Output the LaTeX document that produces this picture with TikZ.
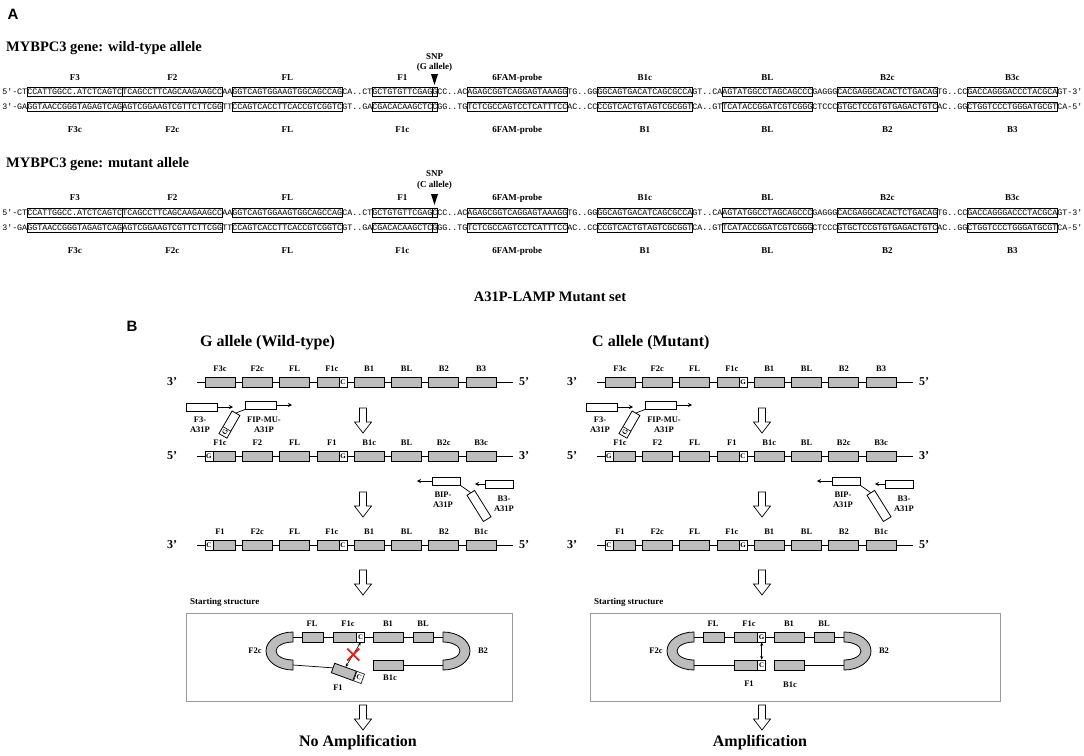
\documentclass[tikz,border=0pt]{standalone}
\usepackage{fontspec}
\setmainfont{Liberation Serif}
\newfontfamily\seqfont{Liberation Mono}
\newfontfamily\pfont{Liberation Sans}
\usetikzlibrary{arrows.meta,calc}
\definecolor{boxgray}{HTML}{BDBDBD}
\definecolor{framegray}{HTML}{9A9A9A}
\definecolor{xred}{HTML}{E0201B}

\newcommand{\seqrow}[3]{\foreach \ii/\tx/\dc/\nm in {#3}{\node[seqn,draw=\dc] (#1\nm) at ({2+5*\ii},#2) {\tx};}}
\newcommand{\strandB}[6]{%
  \draw[strandline] ({#2+197},#3) coordinate (#1s) -- ({#2+513},#3) coordinate (#1e);
  \node[endlab] (#1L) at ({#2+172},#3) {#4};
  \node[endlab] (#1R) at ({#2+524},#3) {#5};
  \foreach \lab [count=\k from 0] in {#6}{%
    \node[gbox] (#1b\k) at ({#2+220+37.3*\k},#3) {};
    \node[blab] (#1t\k) at ({#2+220+37.3*\k},{#3-13}) {\lab};
  }%
}
\newcommand{\hdown}[2]{\draw[harrow] ({#1-3.5},#2) -- ({#1+3.5},#2) -- ({#1+3.5},{#2+14}) -- ({#1+8.5},{#2+14}) -- (#1,{#2+25}) -- ({#1-8.5},{#2+14}) -- ({#1-3.5},{#2+14}) -- cycle;}
\newcommand{\primers}[2]{%
  \node[pbox,minimum width=31pt] (#1F3p) at ({#2+201.5},407) {};
  \coordinate (#1F3a) at ({#2+233},407);
  \draw[parrow] (#1F3p.east) -- (#1F3a);
  \node[plab] (#1F3l) at ({#2+200},425) {F3-\\A31P};
  \node[pbox,minimum width=31pt] (#1FIPp) at ({#2+261},405) {};
  \coordinate (#1FIPa) at ({#2+292},405);
  \draw[parrow] (#1FIPp.east) -- (#1FIPa);
  \node[pbox,minimum width=26pt,minimum height=9pt,rotate=60] (#1FIPt) at ({#2+229.5},424.5) {};
  \node[lsq,minimum height=9pt,rotate=60,anchor=west] (#1FIPg) at (#1FIPt.west) {G};
  \draw[thinline] (#1FIPp.south west) -- (#1FIPt.east);
  \node[plab] (#1FIPl) at ({#2+264},425) {FIP-MU-\\A31P};
  \node[pbox,minimum width=28pt] (#1BIPp) at ({#2+446},481) {};
  \coordinate (#1BIPa) at ({#2+417},481);
  \draw[parrow] (#1BIPp.west) -- (#1BIPa);
  \node[pbox,minimum width=31pt,minimum height=9pt,rotate=-58] (#1BIPt) at ({#2+479},506) {};
  \draw[thinline] (#1BIPp.south east) -- (#1BIPt.west);
  \node[plab] (#1BIPl) at ({#2+443},499.5) {BIP-\\A31P};
  \node[pbox,minimum width=28pt] (#1B3p) at ({#2+499},484) {};
  \coordinate (#1B3a) at ({#2+475},484);
  \draw[parrow] (#1B3p.west) -- (#1B3a);
  \node[plab] (#1B3l) at ({#2+504},504) {B3-\\A31P};
}

\begin{document}
\begin{tikzpicture}[x=1pt,y=-1pt,
  seqn/.style={anchor=west, inner xsep=0pt, inner ysep=1.8pt, text height=5.6pt, text depth=0pt, font=\seqfont\fontsize{8.333}{9}\selectfont, line width=0.5pt},
  alab/.style={font=\bfseries\fontsize{9}{10}\selectfont, inner sep=0pt},
  title/.style={font=\bfseries\fontsize{14.5}{16}\selectfont, inner sep=0pt},
  panel/.style={font=\pfont\bfseries\fontsize{15}{16}\selectfont, inner sep=0pt},
  gbox/.style={draw, line width=0.8pt, fill=boxgray, minimum width=30pt, minimum height=10pt, inner sep=0pt},
  lsq/.style={draw, line width=0.6pt, fill=white, minimum width=8pt, minimum height=10pt, inner sep=0pt, font=\bfseries\fontsize{7}{7}\selectfont},
  pbox/.style={draw, line width=0.8pt, fill=white, minimum height=8pt, inner sep=0pt},
  parrow/.style={-{Stealth[length=4pt,width=4pt]}, line width=0.6pt},
  strandline/.style={line width=0.8pt},
  thinline/.style={line width=0.7pt},
  endlab/.style={font=\bfseries\fontsize{12}{12}\selectfont, inner sep=0pt},
  blab/.style={font=\bfseries\fontsize{8.5}{9}\selectfont, inner sep=0pt},
  plab/.style={font=\bfseries\fontsize{8.5}{10}\selectfont, inner sep=0pt, align=center},
  harrow/.style={draw, line width=0.7pt, fill=white},
  ssframe/.style={draw=framegray, line width=0.8pt, inner sep=0pt},
  sslab/.style={font=\bfseries\fontsize{9}{10}\selectfont, inner sep=0pt},
  arcband/.style={draw, line width=0.8pt, fill=boxgray},
  dblarrow/.style={{Stealth[length=3.5pt,width=3pt]}-{Stealth[length=3.5pt,width=3pt]}, line width=0.6pt},
  redx/.style={draw=xred, line width=1.8pt},
  big/.style={font=\bfseries\fontsize{16}{18}\selectfont, inner sep=0pt}
]
\fill[white] (0,0) rectangle (1084,755);
\useasboundingbox (0,0) rectangle (1084,755);

% ---------------- Panel A ----------------
\node[panel] (pA) at (13,14) {A};
\node[title,anchor=west] (wtitle) at (6,48) {MYBPC3 gene: wild-type allele};
\node[alab] (wsnp1) at (434.5,57) {SNP};
\node[alab] (wsnp2) at (434.5,67) {(G allele)};
\coordinate (wtri) at (434.5,85);
\fill ([shift={(-3.5pt,11pt)}]wtri) -- ([shift={(3.5pt,11pt)}]wtri) -- (wtri) -- cycle;

\seqrow{w5}{92}{0/5'-CT/none/a, 5/CCATTGGCC.ATCTCAGTC/black/F3, 24/TCAGCCTTCAGCAAGAAGCC/black/F2, 44/AA/none/b, 46/GGTCAGTGGAAGTGGCAGCCAG/black/FL, 68/CA..CT/none/c, 74/GCTGTGTTCGAG/black/F1, 86/G/black/SNP, 87/CC..AC/none/d, 93/AGAGCGGTCAGGAGTAAAGG/black/P, 113/TG..GG/none/e, 119/GGCAGTGACATCAGCGCCA/black/B1c, 138/GT..CA/none/f, 144/AGTATGGCCTAGCAGCCC/black/BL, 162/GAGGG/none/g, 167/CACGAGGCACACTCTGACAG/black/B2c, 187/TG..CC/none/h, 193/GACCAGGGACCCTACGCA/black/B3c, 211/GT-3'/none/i}
\seqrow{w3}{107}{0/3'-GA/none/a, 5/GGTAACCGGGTAGAGTCAG/black/F3, 24/AGTCGGAAGTCGTTCTTCGG/black/F2, 44/TT/none/b, 46/CCAGTCACCTTCACCGTCGGTC/black/FL, 68/GT..GA/none/c, 74/CGACACAAGCTC/black/F1, 86/C/black/SNP, 87/GG..TG/none/d, 93/TCTCGCCAGTCCTCATTTCC/black/P, 113/AC..CC/none/e, 119/CCGTCACTGTAGTCGCGGT/black/B1c, 138/CA..GT/none/f, 144/TCATACCGGATCGTCGGG/black/BL, 162/CTCCC/none/g, 167/GTGCTCCGTGTGAGACTGTC/black/B2c, 187/AC..GG/none/h, 193/CTGGTCCCTGGGATGCGT/black/B3c, 211/CA-5'/none/i}
\coordinate (wl1) at (0,78);
\coordinate (wl2) at (0,130);
\foreach \nm/\lb in {F3/F3,F2/F2,FL/FL,F1/F1,P/6FAM-probe,B1c/B1c,BL/BL,B2c/B2c,B3c/B3c}{\node[alab] (wu\nm) at (w5\nm |- wl1) {\lb};}
\foreach \nm/\lb in {F3/F3c,F2/F2c,FL/FL,F1/F1c,P/6FAM-probe,B1c/B1,BL/BL,B2c/B2,B3c/B3}{\node[alab] (wd\nm) at (w3\nm |- wl2) {\lb};}

\node[title,anchor=west] (mtitle) at (6,164) {MYBPC3 gene: mutant allele};
\node[alab] (msnp1) at (434.5,174) {SNP};
\node[alab] (msnp2) at (434.5,185) {(C allele)};
\coordinate (mtri) at (434.5,205);
\fill ([shift={(-3.5pt,11pt)}]mtri) -- ([shift={(3.5pt,11pt)}]mtri) -- (mtri) -- cycle;
\seqrow{m5}{213}{0/5'-CT/none/a, 5/CCATTGGCC.ATCTCAGTC/black/F3, 24/TCAGCCTTCAGCAAGAAGCC/black/F2, 44/AA/none/b, 46/GGTCAGTGGAAGTGGCAGCCAG/black/FL, 68/CA..CT/none/c, 74/GCTGTGTTCGAG/black/F1, 86/C/black/SNP, 87/CC..AC/none/d, 93/AGAGCGGTCAGGAGTAAAGG/black/P, 113/TG..GG/none/e, 119/GGCAGTGACATCAGCGCCA/black/B1c, 138/GT..CA/none/f, 144/AGTATGGCCTAGCAGCCC/black/BL, 162/GAGGG/none/g, 167/CACGAGGCACACTCTGACAG/black/B2c, 187/TG..CC/none/h, 193/GACCAGGGACCCTACGCA/black/B3c, 211/GT-3'/none/i}
\seqrow{m3}{228}{0/3'-GA/none/a, 5/GGTAACCGGGTAGAGTCAG/black/F3, 24/AGTCGGAAGTCGTTCTTCGG/black/F2, 44/TT/none/b, 46/CCAGTCACCTTCACCGTCGGTC/black/FL, 68/GT..GA/none/c, 74/CGACACAAGCTC/black/F1, 86/G/black/SNP, 87/GG..TG/none/d, 93/TCTCGCCAGTCCTCATTTCC/black/P, 113/AC..CC/none/e, 119/CCGTCACTGTAGTCGCGGT/black/B1c, 138/CA..GT/none/f, 144/TCATACCGGATCGTCGGG/black/BL, 162/CTCCC/none/g, 167/GTGCTCCGTGTGAGACTGTC/black/B2c, 187/AC..GG/none/h, 193/CTGGTCCCTGGGATGCGT/black/B3c, 211/CA-5'/none/i}
\coordinate (ml1) at (0,198);
\coordinate (ml2) at (0,251);
\foreach \nm/\lb in {F3/F3,F2/F2,FL/FL,F1/F1,P/6FAM-probe,B1c/B1c,BL/BL,B2c/B2c,B3c/B3c}{\node[alab] (mu\nm) at (m5\nm |- ml1) {\lb};}
\foreach \nm/\lb in {F3/F3c,F2/F2c,FL/FL,F1/F1c,P/6FAM-probe,B1c/B1,BL/BL,B2c/B2,B3c/B3}{\node[alab] (md\nm) at (m3\nm |- ml2) {\lb};}

\node[title] (settitle) at (550,297) {A31P-LAMP Mutant set};

% ---------------- Panel B ----------------
\node[panel] (pB) at (132,326) {B};
\node[big,anchor=west] (gtitle) at (200,343) {G allele (Wild-type)};
\node[big,anchor=west] (ctitle) at (592,343) {C allele (Mutant)};

% left (G allele)
\strandB{lA}{0}{382}{3'}{5'}{F3c,F2c,FL,F1c,B1,BL,B2,B3}
\node[lsq,anchor=east] (lAs) at (lAb3.east) {C};
\strandB{lB}{0}{456}{5'}{3'}{F1c,F2,FL,F1,B1c,BL,B2c,B3c}
\node[lsq,anchor=west] (lBs0) at (lBb0.west) {G};
\node[lsq,anchor=east] (lBs3) at (lBb3.east) {G};
\strandB{lC}{0}{545}{3'}{5'}{F1,F2c,FL,F1c,B1,BL,B2,B1c}
\node[lsq,anchor=west] (lCs0) at (lCb0.west) {C};
\node[lsq,anchor=east] (lCs3) at (lCb3.east) {C};
\primers{l}{0}
\hdown{363}{408}
\hdown{363}{492}
\hdown{363}{570}
\hdown{363}{705}

% right (C allele)
\strandB{rA}{400}{382}{3'}{5'}{F3c,F2c,FL,F1c,B1,BL,B2,B3}
\node[lsq,anchor=east] (rAs) at (rAb3.east) {G};
\strandB{rB}{400}{456}{5'}{3'}{F1c,F2,FL,F1,B1c,BL,B2c,B3c}
\node[lsq,anchor=west] (rBs0) at (rBb0.west) {G};
\node[lsq,anchor=east] (rBs3) at (rBb3.east) {C};
\strandB{rC}{400}{545}{3'}{5'}{F1,F2c,FL,F1c,B1,BL,B2,B1c}
\node[lsq,anchor=west] (rCs0) at (rCb0.west) {C};
\node[lsq,anchor=east] (rCs3) at (rCb3.east) {G};
\primers{r}{400}
\hdown{762}{408}
\hdown{762}{492}
\hdown{762}{570}
\hdown{762}{705}

% starting structure, left
\node[sslab,anchor=west] (lSSt) at (190,602) {Starting structure};
\node[ssframe,minimum width=326pt,minimum height=88pt,anchor=north west] (lSS) at (186,613) {};
\draw[arcband] (293,632) arc[start angle=90,end angle=270,x radius=27pt,y radius=19pt] -- (293,660) arc[start angle=270,end angle=90,x radius=17pt,y radius=9pt] -- cycle;
\draw[arcband] (443,632) arc[start angle=90,end angle=-90,x radius=27pt,y radius=19pt] -- (443,660) arc[start angle=-90,end angle=90,x radius=17pt,y radius=9pt] -- cycle;
\draw[thinline] (293,637) coordinate (lT0) -- (443,637) coordinate (lT1);
\node[gbox,minimum width=21pt] (lFL) at (312.5,637) {};
\node[gbox,minimum width=23pt] (lF1c) at (344.5,637) {};
\node[lsq,anchor=west] (lF1cC) at (lF1c.east) {C};
\node[gbox,minimum width=30pt] (lB1) at (388,637) {};
\node[gbox,minimum width=20pt] (lBL) at (423,637) {};
\node[blab] (lFLt) at (312,624) {FL};
\node[blab] (lF1ct) at (348,624) {F1c};
\node[blab] (lB1t) at (388,624) {B1};
\node[blab] (lBLt) at (423,624) {BL};
\node[blab] (lF2ct) at (255,651) {F2c};
\node[blab] (lB2t) at (483,651) {B2};
\node[gbox,minimum width=30pt] (lB1c) at (388,665) {};
\coordinate (lB1cE) at (443,665);
\draw[thinline] (lB1c.east) -- (lB1cE);
\node[gbox,minimum width=23pt,rotate=-20] (lF1) at (343.8,671.9) {};
\node[lsq,rotate=-20,anchor=west] (lF1C) at (lF1.east) {C};
\coordinate (lF2cB) at (293,665);
\draw[thinline] (lF2cB) -- (lF1.west);
\node[blab] (lF1t) at (338,688) {F1};
\node[blab] (lB1ct) at (390,678) {B1c};
\draw[dblarrow] (lF1cC.south) -- (lF1.north);
\coordinate (lX) at ($(lF1cC.south)!0.5!(lF1.north)$);
\draw[redx] ([shift={(-6pt,-6pt)}]lX) -- ([shift={(6pt,6pt)}]lX);
\draw[redx] ([shift={(-6pt,6pt)}]lX) -- ([shift={(6pt,-6pt)}]lX);
\node[big] (noamp) at (358,743) {No Amplification};

% starting structure, right
\node[sslab,anchor=west] (rSSt) at (594,602) {Starting structure};
\node[ssframe,minimum width=410pt,minimum height=88pt,anchor=north west] (rSS) at (590,613) {};
\draw[arcband] (694,632) arc[start angle=90,end angle=270,x radius=27pt,y radius=19pt] -- (694,660) arc[start angle=270,end angle=90,x radius=17pt,y radius=9pt] -- cycle;
\draw[arcband] (844,632) arc[start angle=90,end angle=-90,x radius=27pt,y radius=19pt] -- (844,660) arc[start angle=-90,end angle=90,x radius=17pt,y radius=9pt] -- cycle;
\draw[thinline] (694,637) coordinate (rT0) -- (844,637) coordinate (rT1);
\node[gbox,minimum width=21pt] (rFL) at (713.5,637) {};
\node[gbox,minimum width=23pt] (rF1c) at (745.5,637) {};
\node[lsq,anchor=west] (rF1cG) at (rF1c.east) {G};
\node[gbox,minimum width=30pt] (rB1) at (789,637) {};
\node[gbox,minimum width=20pt] (rBL) at (824,637) {};
\node[blab] (rFLt) at (713,624) {FL};
\node[blab] (rF1ct) at (749,624) {F1c};
\node[blab] (rB1t) at (789,624) {B1};
\node[blab] (rBLt) at (824,624) {BL};
\node[blab] (rF2ct) at (656,651) {F2c};
\node[blab] (rB2t) at (884,651) {B2};
\coordinate (rF2cB) at (694,665);
\node[gbox,minimum width=23pt] (rF1) at (745.5,665) {};
\node[lsq,anchor=west] (rF1C) at (rF1.east) {C};
\draw[thinline] (rF2cB) -- (rF1.west);
\node[gbox,minimum width=30pt] (rB1c) at (789,665) {};
\coordinate (rB1cE) at (844,665);
\draw[thinline] (rB1c.east) -- (rB1cE);
\node[blab] (rF1t) at (749,684) {F1};
\node[blab] (rB1ct) at (790,685) {B1c};
\draw[dblarrow] (rF1cG.south) -- (rF1C.north);
\node[big] (amp) at (760,743) {Amplification};
\end{tikzpicture}
\end{document}
